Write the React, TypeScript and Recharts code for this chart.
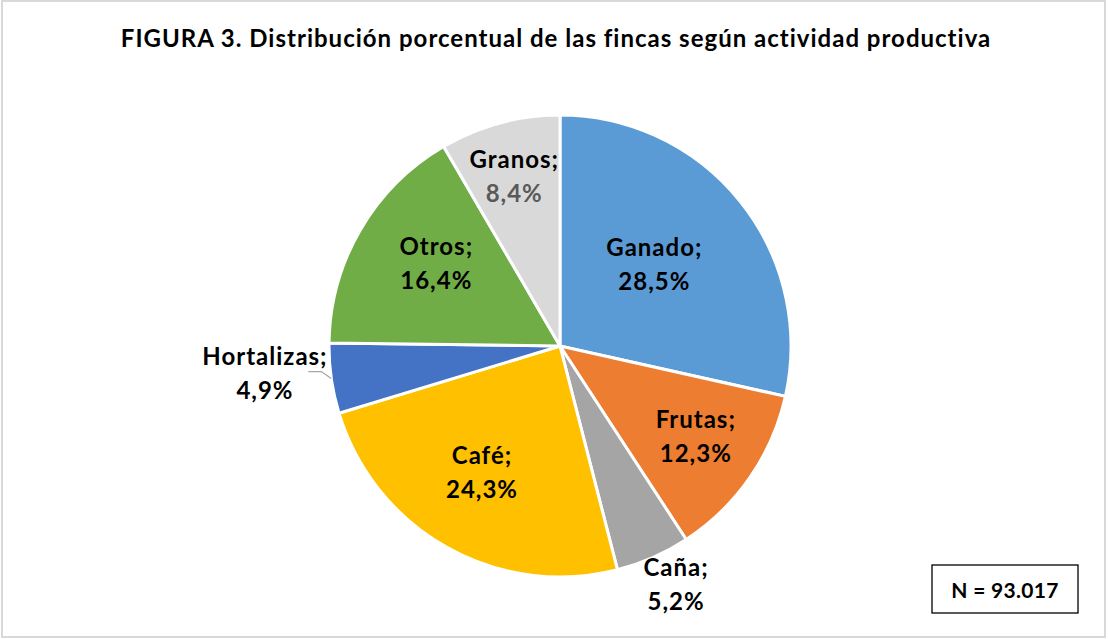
import React from "react";
import { PieChart, Pie, Cell } from "recharts";

const categories = ["Ganado", "Frutas", "Caña", "Café", "Hortalizas", "Otros", "Granos"];
const percentages = [28.5, 12.3, 5.2, 24.3, 4.9, 16.4, 8.4];
const percentLabels = ["28,5%", "12,3%", "5,2%", "24,3%", "4,9%", "16,4%", "8,4%"];
const titleText = "FIGURA 3. Distribución porcentual de las fincas según actividad productiva";
const noteText = "N = 93.017";

const COLORS = ["#5B9BD5", "#ED7D31", "#A5A5A5", "#FFC000", "#4472C4", "#70AD47", "#D9D9D9"];
const LABEL_RADIUS = [0.54, 0.71, 1.15, 0.645, 1.29, 0.645, 0.76];
const LABEL_NUDGE_X = [-3, 1, 9, -5, 0, 5, 0];
const LABEL_NUDGE_Y = [-3, -2, -4, -3, -14, -7, 0];
const VALUE_COLORS = ["#000", "#000", "#000", "#000", "#000", "#000", "#595959"];

const data = categories.map((name, i) => ({ name, value: percentages[i], pct: percentLabels[i] }));

const FONT = "Lato, 'Open Sans', sans-serif";
const RAD = Math.PI / 180;

const renderLabel = (props: any) => {
  const { cx, cy, midAngle, outerRadius, index } = props;
  const r = outerRadius * LABEL_RADIUS[index];
  const x = cx + r * Math.cos(-midAngle * RAD) + LABEL_NUDGE_X[index];
  const y = cy + r * Math.sin(-midAngle * RAD) + LABEL_NUDGE_Y[index];
  const fs = 24;
  const els: any[] = [];
  if (index === 4) {
    const ex = cx + outerRadius * Math.cos(-midAngle * RAD);
    const ey = cy + outerRadius * Math.sin(-midAngle * RAD);
    els.push(
      <polyline
        key="ll"
        points={`${ex},${ey} ${ex - 10},${ey - 7} ${ex - 23},${ey - 7}`}
        fill="none"
        stroke="#A6A6A6"
        strokeWidth={1.3}
      />
    );
  }
  els.push(
    <text key="t" x={x} textAnchor="middle" fontFamily={FONT} fontWeight="bold" fontSize={fs} letterSpacing={1}>
      <tspan x={x} y={y - 17 + 8} fill="#000">{`${data[index].name};`}</tspan>
      <tspan x={x} y={y + 17 + 8} fill={VALUE_COLORS[index]}>{data[index].pct}</tspan>
    </text>
  );
  return <g>{els}</g>;
};

export default function App() {
  return (
    <div style={{ position: "absolute", left: 0, top: 0, width: 1108, height: 639, background: "#fff" }}>
      <svg width={1108} height={639} style={{ position: "absolute", left: 0, top: 0 }}>
        <rect x={2} y={1} width={1103} height={636} fill="#fff" stroke="#D9D9D9" strokeWidth={2} />
        <text x={556} y={47} textAnchor="middle" fontFamily={FONT} fontWeight="bold" fontSize={24} letterSpacing={1} fill="#000">
          {titleText}
        </text>
        <rect x={932} y={565} width={146} height={48} fill="#fff" stroke="#000" strokeWidth={1.3} />
        <text x={1005} y={598} textAnchor="middle" fontFamily={FONT} fontWeight="bold" fontSize={21} letterSpacing={0.3} fill="#000">
          {noteText}
        </text>
      </svg>
      <div style={{ position: "absolute", left: 0, top: 0 }}>
        <PieChart width={1108} height={639} margin={{ top: 0, right: 0, bottom: 0, left: 0 }}>
          <Pie
            data={data}
            dataKey="value"
            nameKey="name"
            cx={560}
            cy={346}
            outerRadius={231}
            startAngle={90}
            endAngle={-270}
            stroke="#fff"
            strokeWidth={3}
            label={renderLabel}
            labelLine={false}
            isAnimationActive={false}
          >
            {data.map((d, i) => (
              <Cell key={d.name} fill={COLORS[i]} />
            ))}
          </Pie>
        </PieChart>
      </div>
    </div>
  );
}
